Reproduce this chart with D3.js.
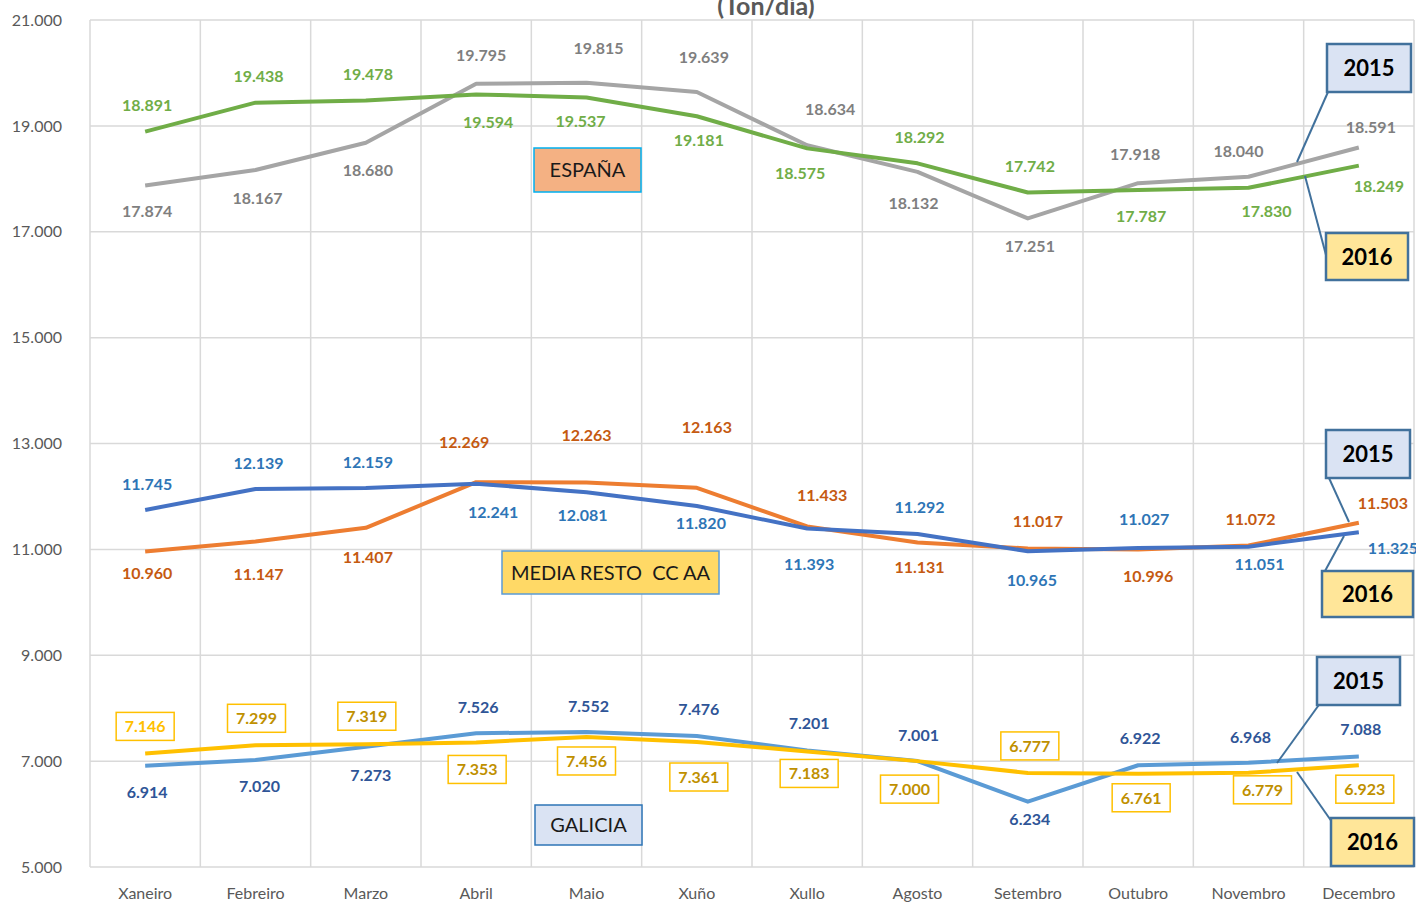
<!DOCTYPE html>
<html>
<head>
<meta charset="utf-8">
<script src="https://cdn.jsdelivr.net/npm/d3@7"></script>
<style>
  body { margin: 0; background: #fff; }
  text { font-family: Lato, "Open Sans", sans-serif; }
</style>
</head>
<body>
<div id="myChart"></div>
<script>
// months
var months = ["Xaneiro", "Febreiro", "Marzo", "Abril", "Maio", "Xuño", "Xullo", "Agosto", "Setembro", "Outubro", "Novembro", "Decembro"];
var yTicks = [5000, 7000, 9000, 11000, 13000, 15000, 17000, 19000, 21000];

// España
var espana2015 = [17874, 18167, 18680, 19795, 19815, 19639, 18634, 18132, 17251, 17918, 18040, 18591];
var espana2016 = [18891, 19438, 19478, 19594, 19537, 19181, 18575, 18292, 17742, 17787, 17830, 18249];
// Media resto CC AA
var resto2015 = [10960, 11147, 11407, 12269, 12263, 12163, 11433, 11131, 11017, 10996, 11072, 11503];
var resto2016 = [11745, 12139, 12159, 12241, 12081, 11820, 11393, 11292, 10965, 11027, 11051, 11325];
// Galicia
var galicia2015 = [6914, 7020, 7273, 7526, 7552, 7476, 7201, 7001, 6234, 6922, 6968, 7088];
var galicia2016 = [7146, 7299, 7319, 7353, 7456, 7361, 7183, 7000, 6777, 6761, 6779, 6923];

// where each value label sits relative to its point (px): vertical, then horizontal
var espana2015Dy  = [26, 28, 27, -29, -35, -35, -36, 31, 28, -29, -26, -21];
var espana2015Dx  = [2, 2, 2, 5, 12, 7, 23, -4, 2, -3, -10, 12];
var espana2016Dy  = [-27, -27, -27, 28, 24, 24, 25, -26, -26, 26, 23, 20];
var espana2016Dx  = [2, 3, 2, 12, -6, 2, -7, 2, 2, 3, 18, 20];
var resto2015Dy   = [22, 32, 29, -40, -48, -61, -31, 25, -27, 26, -27, -20];
var resto2015Dx   = [2, 3, 2, -12, 0, 10, 15, 2, 10, 10, 2, 24];
var resto2016Dy   = [-26, -26, -26, 28, 23, 17, 35, -27, 29, -29, 17, 16];
var resto2016Dx   = [2, 3, 2, 17, -4, 4, 2, 2, 4, 6, 11, 34];
var galicia2015Dy = [26, 26, 28, -26, -26, -27, -27, -26, 17, -27, -26, -27];
var galicia2015Dx = [2, 4, 5, 2, 2, 2, 2, 1, 2, 2, 2, 2];
var galicia2016Dy = [-27, -27, -28, 27, 24, 35, 22, 28, -27, 24, 17, 24];
var galicia2016Dx = [0, 1, 1, 1, 0, 2, 2, -8, 2, 3, 14, 6];

const W = 1416, H = 904;
const margin = { top: 20, right: 2, bottom: 37, left: 90 };
const width = W - margin.left - margin.right;
const height = H - margin.top - margin.bottom;

var locale = d3.formatLocale({ decimal: ",", thousands: ".", grouping: [3], currency: ["", ""] });
var fmt = locale.format(",.0f");

var svg = d3.select("#myChart").append("svg")
  .attr("width", W).attr("height", H);

var g = svg.append("g")
  .attr("transform", "translate(" + margin.left + "," + margin.top + ")");

var x = d3.scaleBand().domain(months).range([0, width]);
var y = d3.scaleLinear().domain([5000, 21000]).range([height, 0]);
var cx = function(i) { return x(months[i]) + x.bandwidth() / 2; };

// grid
g.append("g").selectAll("line").data(yTicks).join("line")
  .attr("x1", 0).attr("x2", width)
  .attr("y1", d => y(d)).attr("y2", d => y(d))
  .attr("stroke", "#d9d9d9").attr("stroke-width", 1.5);
g.append("g").selectAll("line").data(d3.range(months.length + 1)).join("line")
  .attr("x1", i => i * x.step()).attr("x2", i => i * x.step())
  .attr("y1", 0).attr("y2", height)
  .attr("stroke", "#d9d9d9").attr("stroke-width", 1.5);

// axes
var yAxis = d3.axisLeft(y).tickValues(yTicks).tickFormat(fmt).tickSize(0).tickPadding(28);
g.append("g").call(yAxis)
  .call(a => a.select(".domain").remove())
  .selectAll("text").attr("font-size", 16).attr("fill", "#595959");

var xAxis = d3.axisBottom(x).tickSize(0).tickPadding(21);
g.append("g").attr("transform", "translate(0," + height + ")").call(xAxis)
  .call(a => a.select(".domain").remove())
  .selectAll("text").attr("font-size", 16).attr("fill", "#595959");

// title (its top is cut by the edge in the original too)
svg.append("text").attr("x", 766).attr("y", 15)
  .attr("text-anchor", "middle").attr("font-size", 25).attr("font-weight", "bold")
  .attr("fill", "#595959").text("(Ton/día)");

var line = d3.line().x((d, i) => cx(i)).y(d => y(d));

var series = [
  { data: espana2015, dy: espana2015Dy, dx: espana2015Dx, stroke: "#a5a5a5", label: "#7f7f7f" },
  { data: espana2016, dy: espana2016Dy, dx: espana2016Dx, stroke: "#70ad47", label: "#70ad47" },
  { data: resto2015, dy: resto2015Dy, dx: resto2015Dx, stroke: "#ed7d31", label: "#c55a11" },
  { data: resto2016, dy: resto2016Dy, dx: resto2016Dx, stroke: "#4472c4", label: "#2e75b6" },
  { data: galicia2015, dy: galicia2015Dy, dx: galicia2015Dx, stroke: "#5b9bd5", label: "#2f5597" },
  { data: galicia2016, dy: galicia2016Dy, dx: galicia2016Dx, stroke: "#ffc000", label: "#bf9000", boxed: true }
];

series.forEach(function(s) {
  g.append("path").datum(s.data)
    .attr("d", line)
    .attr("fill", "none")
    .attr("stroke", s.stroke)
    .attr("stroke-width", 4)
    .attr("stroke-linejoin", "round");
});

series.forEach(function(s) {
  var lg = g.append("g");
  s.data.forEach(function(v, i) {
    var ly = y(v) + s.dy[i];      // label centre
    var lx = cx(i) + s.dx[i];
    if (s.boxed) {
      lg.append("rect")
        .attr("x", lx - 29).attr("y", ly - 14)
        .attr("width", 58).attr("height", 28)
        .attr("fill", "#fff").attr("stroke", "#ffc000").attr("stroke-width", 1.5);
    }
    lg.append("text")
      .attr("x", lx).attr("y", ly + 6)
      .attr("text-anchor", "middle")
      .attr("font-size", 16).attr("font-weight", "bold")
      .attr("fill", s.boxed && i === 0 ? "#ffc000" : s.label)
      .text(fmt(v));
  });
});

// group name boxes
var names = [
  { text: "ESPAÑA", x: 534, y: 148, w: 107, h: 44, fill: "#f4b183", stroke: "#00b0f0" },
  { text: "MEDIA RESTO  CC AA", x: 502, y: 551, w: 217, h: 43, fill: "#ffd966", stroke: "#5b9bd5" },
  { text: "GALICIA", x: 535, y: 805, w: 107, h: 40, fill: "#dae3f3", stroke: "#2e75b6" }
];
names.forEach(function(n) {
  svg.append("rect").attr("x", n.x).attr("y", n.y).attr("width", n.w).attr("height", n.h)
    .attr("fill", n.fill).attr("stroke", n.stroke).attr("stroke-width", 1.5);
  svg.append("text").attr("x", n.x + n.w / 2).attr("y", n.y + n.h / 2 + 7)
    .attr("text-anchor", "middle").attr("font-size", 20).attr("fill", "#1a1a1a")
    .style("white-space", "pre").text(n.text);
});

// year callouts
var callouts = [
  { t: "2015", x: 1327, y: 44, w: 84, h: 48, fill: "#dae3f3", lx1: 1328, ly1: 92, lx2: 1297, ly2: 162 },
  { t: "2016", x: 1326, y: 233, w: 82, h: 47, fill: "#ffe699", lx1: 1326, ly1: 255, lx2: 1305, ly2: 176 },
  { t: "2015", x: 1326, y: 430, w: 84, h: 48, fill: "#dae3f3", lx1: 1329, ly1: 478, lx2: 1349, ly2: 522 },
  { t: "2016", x: 1322, y: 571, w: 91, h: 46, fill: "#ffe699", lx1: 1325, ly1: 571, lx2: 1344, ly2: 536 },
  { t: "2015", x: 1317, y: 657, w: 83, h: 48, fill: "#dae3f3", lx1: 1321, ly1: 702, lx2: 1277, ly2: 763 },
  { t: "2016", x: 1331, y: 818, w: 83, h: 48, fill: "#ffe699", lx1: 1332, ly1: 822, lx2: 1297, ly2: 772 }
];
callouts.forEach(function(c) {
  svg.append("line").attr("x1", c.lx1).attr("y1", c.ly1).attr("x2", c.lx2).attr("y2", c.ly2)
    .attr("stroke", "#41719c").attr("stroke-width", 2);
  svg.append("rect").attr("x", c.x).attr("y", c.y).attr("width", c.w).attr("height", c.h)
    .attr("fill", c.fill).attr("stroke", "#41719c").attr("stroke-width", 2.5);
  svg.append("text").attr("x", c.x + c.w / 2).attr("y", c.y + c.h / 2 + 8)
    .attr("text-anchor", "middle").attr("font-size", 22).attr("font-weight", "bold")
    .attr("fill", "#000").text(c.t);
});
</script>
</body>
</html>
